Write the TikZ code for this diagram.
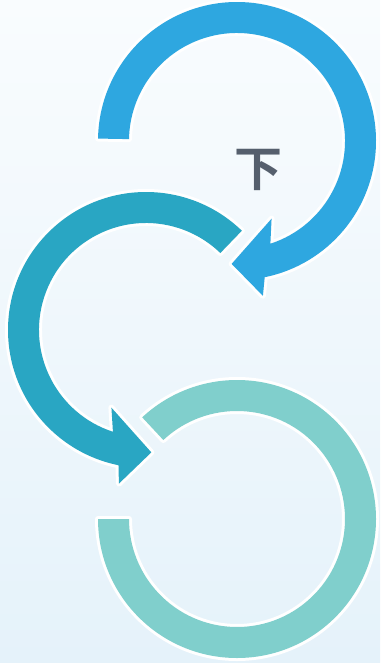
\documentclass[tikz,border=0pt]{standalone}
\usepackage{fontspec}
\newfontfamily\cjk{Noto Sans CJK SC Bold}
\definecolor{bgtop}{RGB}{249,252,254}
\definecolor{bgbot}{RGB}{229,242,250}
\definecolor{arrowA}{RGB}{46,167,224}
\definecolor{arrowB}{RGB}{41,166,195}
\definecolor{arrowC}{RGB}{128,207,204}
\definecolor{txtgray}{RGB}{85,95,109}
\begin{document}
\begin{tikzpicture}[x=1pt,y=-1pt,
  band/.style={preaction={draw=white,line width=6pt,line join=round},fill=#1}]
\useasboundingbox (0,0) rectangle (380,663);
\shade[top color=bgtop,bottom color=bgbot] (0,0) rectangle (380,663);
% arrow 3 (light teal ring)
\path[band=arrowC] ([shift={(237,519)}]180:139) arc[start angle=180,end angle=-133,radius=139]
  -- ([shift={(237,519)}]-133:108) arc[start angle=-133,end angle=180,radius=108] -- cycle;
% arrow 2 (teal)
\path[band=arrowB] ([shift={(146,330)}]-46:138) arc[start angle=-46,end angle=-258.5,radius=138]
  -- ([shift={(146,330)}]-260:156)
  -- ([shift={(146,330)}]-272.5:122.5)
  -- ([shift={(146,330)}]-246:85)
  -- ([shift={(146,330)}]-252:107) arc[start angle=-252,end angle=-46,radius=107] -- cycle;
% arrow 1 (blue)
\path[band=arrowA] ([shift={(237,141)}]181:139) arc[start angle=181,end angle=438.5,radius=139]
  -- ([shift={(237,141)}]440.5:157)
  -- ([shift={(237,141)}]452.5:123)
  -- ([shift={(237,141)}]426:85)
  -- ([shift={(237,141)}]432:108) arc[start angle=432,end angle=181,radius=108] -- cycle;
\node[text=txtgray,font=\cjk\fontsize{48}{48}\selectfont,inner sep=0pt] (lbl) at (258,170) {下};
\end{tikzpicture}
\end{document}
